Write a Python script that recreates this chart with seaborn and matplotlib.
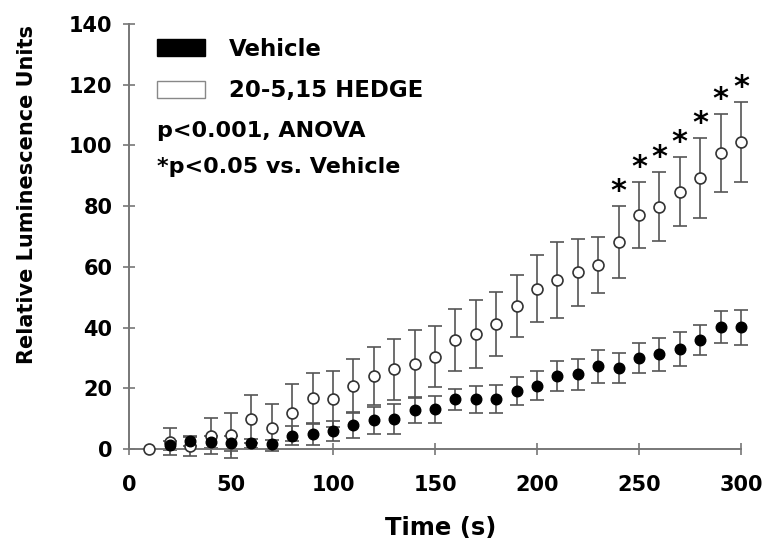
import numpy as np
import pandas as pd
import matplotlib
matplotlib.use("Agg")
import matplotlib.pyplot as plt
from matplotlib.patches import Patch
import seaborn as sns

# ---------------- data ----------------
time_s = [10, 20, 30, 40, 50, 60, 70, 80, 90, 100,
          110, 120, 130, 140, 150, 160, 170, 180, 190, 200,
          210, 220, 230, 240, 250, 260, 270, 280, 290, 300]

hedge_mean = [0.0, 2.4, 1.0, 4.3, 4.5, 10.0, 7.0, 12.0, 16.7, 16.5,
              20.7, 24.0, 26.2, 28.0, 30.4, 35.9, 37.8, 41.1, 47.2, 52.8,
              55.7, 58.2, 60.6, 68.1, 77.1, 79.8, 84.8, 89.3, 97.6, 101.2]
hedge_sem = [0.0, 4.5, 3.4, 5.9, 7.5, 7.9, 7.8, 9.4, 8.2, 9.3,
             8.9, 9.6, 10.1, 11.2, 10.1, 10.2, 11.2, 10.6, 10.2, 11.1,
             12.6, 11.0, 9.2, 11.9, 10.9, 11.3, 11.4, 13.2, 12.8, 13.1]

vehicle_mean = [np.nan, 1.3, 2.5, 2.4, 1.9, 1.9, 1.6, 4.4, 4.8, 5.9,
                7.9, 9.4, 9.9, 12.8, 13.1, 16.4, 16.4, 16.4, 19.1, 20.9,
                24.0, 24.6, 27.3, 26.6, 30.1, 31.2, 32.9, 35.9, 40.1, 40.1]
vehicle_sem = [np.nan, 1.5, 1.5, 2.0, 2.5, 1.5, 1.5, 3.2, 3.6, 3.3,
               4.2, 4.5, 4.8, 4.3, 4.4, 3.5, 4.4, 4.7, 4.5, 4.8,
               4.9, 5.1, 5.4, 5.0, 4.9, 5.4, 5.5, 5.0, 5.2, 5.8]

significant_times = [240, 250, 260, 270, 280, 290, 300]

x_ticks = [0, 50, 100, 150, 200, 250, 300]
y_ticks = [0, 20, 40, 60, 80, 100, 120, 140]

series_labels = ["Vehicle", "20-5,15 HEDGE"]
stats_text = ["p<0.001, ANOVA", "*p<0.05 vs. Vehicle"]
x_label = "Time (s)"
y_label = "Relative Luminescence Units"

# ---------------- figure ----------------
sns.set_style("ticks")
plt.rcParams["font.family"] = ["DejaVu Sans"]
plt.rcParams["font.weight"] = "bold"
plt.rcParams["text.color"] = "black"
plt.rcParams["axes.labelcolor"] = "black"
plt.rcParams["xtick.labelcolor"] = "black"
plt.rcParams["ytick.labelcolor"] = "black"

fig = plt.figure(figsize=(7.65, 5.42), dpi=100)
ax = fig.add_axes([129 / 765, 1 - 449 / 542, 612 / 765, 425 / 542])

df_h = pd.DataFrame({"t": time_s, "m": hedge_mean, "e": hedge_sem})
df_v = pd.DataFrame({"t": time_s, "m": vehicle_mean, "e": vehicle_sem}).dropna()

bar_color = "#555555"
ax.errorbar(df_h["t"], df_h["m"], yerr=df_h["e"], fmt="none", ecolor=bar_color,
            elinewidth=1.2, capsize=4.8, capthick=1.2, zorder=2, clip_on=False)
ax.errorbar(df_v["t"], df_v["m"], yerr=df_v["e"], fmt="none", ecolor=bar_color,
            elinewidth=1.2, capsize=4.8, capthick=1.2, zorder=2, clip_on=False)

sns.scatterplot(data=df_h, x="t", y="m", ax=ax, s=62, marker="o",
                facecolor="white", edgecolor="#333333", linewidth=1.2,
                zorder=3, clip_on=False, legend=False)
sns.scatterplot(data=df_v, x="t", y="m", ax=ax, s=58, marker="o",
                color="black", edgecolor="black", linewidth=1.0,
                zorder=4, clip_on=False, legend=False)

# significance stars
for t in significant_times:
    i = time_s.index(t)
    ax.annotate("*", xy=(t, hedge_mean[i] + hedge_sem[i]), xytext=(0, 0),
                textcoords="offset points", ha="center", va="bottom",
                fontsize=22, fontweight="bold", color="black")

ax.set_xlim(0, 300)
ax.set_ylim(0, 140)
ax.set_xticks(x_ticks)
ax.set_yticks(y_ticks)
ax.set_xticklabels([str(v) for v in x_ticks], fontsize=15, fontweight="bold")
ax.set_yticklabels([str(v) for v in y_ticks], fontsize=15, fontweight="bold")
ax.tick_params(axis="both", direction="inout", length=8, width=1.2,
               color="#777777", labelcolor="black")
ax.tick_params(axis="x", pad=15)
ax.tick_params(axis="y", pad=8)

for side in ["top", "right"]:
    ax.spines[side].set_visible(False)
for side in ["left", "bottom"]:
    ax.spines[side].set_color("#777777")
    ax.spines[side].set_linewidth(1.4)

ax.set_xlabel(x_label, fontsize=17.5, fontweight="bold", color="black")
ax.set_ylabel(y_label, fontsize=15, fontweight="bold", color="black")
ax.xaxis.set_label_coords(0.51, -0.158)
ax.yaxis.set_label_coords(-0.15, 0.6)

handles = [Patch(facecolor="black", edgecolor="black", label=series_labels[0]),
           Patch(facecolor="white", edgecolor="#888888", label=series_labels[1])]
leg = ax.legend(handles=handles, loc="upper left", bbox_to_anchor=(0.046, 0.968),
                frameon=False, handlelength=2.1, handleheight=0.8,
                handletextpad=1.05, labelspacing=0.82, borderpad=0, borderaxespad=0,
                prop={"weight": "bold", "size": 16.5})
for txt in leg.get_texts():
    txt.set_color("black")

ax.text(0.046, 0.748, stats_text[0], transform=ax.transAxes, fontsize=16,
        fontweight="bold", ha="left", va="center", color="black")
ax.text(0.046, 0.663, stats_text[1], transform=ax.transAxes, fontsize=16,
        fontweight="bold", ha="left", va="center", color="black")

fig.savefig("out.png", dpi=100)
